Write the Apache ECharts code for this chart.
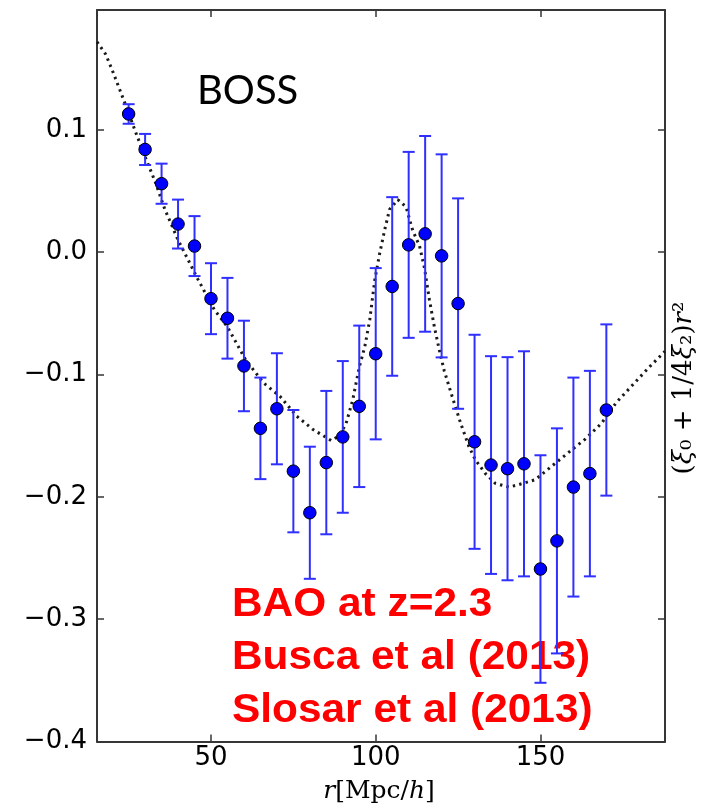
<!DOCTYPE html>
<html>
<head>
<meta charset="utf-8">
<script src="https://cdn.jsdelivr.net/npm/echarts@6/dist/echarts.min.js"></script>
<style>
html,body{margin:0;padding:0;background:#fff;}
#chart{width:712px;height:804px;}
</style>
</head>
<body>
<div id="chart"></div>
<script>
// ---- data ----
const rValues = [25, 30, 35, 40, 45, 50, 55, 60, 65, 70, 75, 80, 85, 90, 95, 100, 105, 110, 115, 120, 125, 130, 135, 140, 145, 150, 155, 160, 165, 170];
const xiValues = [0.113, 0.084, 0.056, 0.023, 0.005, -0.038, -0.054, -0.093, -0.144, -0.128, -0.179, -0.213, -0.172, -0.151, -0.126, -0.083, -0.028, 0.006, 0.015, -0.003, -0.042, -0.155, -0.174, -0.177, -0.173, -0.259, -0.236, -0.192, -0.181, -0.129];
const xiErrors = [0.008, 0.0127, 0.0164, 0.020, 0.0245, 0.029, 0.033, 0.037, 0.0415, 0.0454, 0.050, 0.054, 0.0586, 0.062, 0.066, 0.070, 0.073, 0.076, 0.080, 0.083, 0.086, 0.0875, 0.089, 0.0912, 0.092, 0.093, 0.092, 0.0895, 0.084, 0.070];

const modelR = [15.4, 18, 20, 22, 24, 27, 30, 33, 36, 40, 43, 46, 51, 55, 60.5, 66, 71, 76, 81, 86.5, 89, 91, 93, 95, 96.7, 98.2, 99.7, 101.2, 102.7, 104.2, 106.7, 109.2, 111.2, 113.3, 114.8, 116.3, 117.8, 119.3, 120.8, 123.2, 125.8, 128.3, 130.3, 133.3, 136.3, 140.4, 143.4, 148.4, 153.4, 158.4, 163.5, 168.5, 173, 178.5, 183, 187.8];
const modelXi = [0.172, 0.162, 0.149, 0.135, 0.121, 0.099, 0.078, 0.058, 0.035, 0.010, -0.006, -0.022, -0.047, -0.061, -0.088, -0.107, -0.118, -0.134, -0.145, -0.154, -0.150, -0.140, -0.121, -0.094, -0.077, -0.055, -0.023, -0.001, 0.018, 0.035, 0.043, 0.037, 0.018, 0.005, -0.013, -0.039, -0.061, -0.080, -0.097, -0.118, -0.140, -0.159, -0.170, -0.181, -0.189, -0.192, -0.190, -0.186, -0.175, -0.164, -0.153, -0.140, -0.123, -0.107, -0.094, -0.081];

const xTicks = [50, 100, 150];
const yTicks = [-0.4, -0.3, -0.2, -0.1, 0.0, 0.1];
const xRange = [15.4, 187.8];
const yRange = [-0.4, 0.198];

const annotationLines = ['BAO at z=2.3', 'Busca et al (2013)', 'Slosar et al (2013)'];
const panelLabel = 'BOSS';

// ---- build series data ----
const pointData = rValues.map((r, i) => [r, xiValues[i]]);
const errData = rValues.map((r, i) => [r, xiValues[i] - xiErrors[i], xiValues[i] + xiErrors[i]]);
const modelData = modelR.map((r, i) => [r, modelXi[i]]);

const frameColor = '#363636';
const tickFont = {fontFamily: 'DejaVu Sans', fontSize: 26, color: '#000'};

function yFmt(v) {
  if (Math.abs(v) < 1e-9) return '0.0';
  return v.toFixed(1).replace('-', '\u2212');
}

const chart = echarts.init(document.getElementById('chart'), null, {renderer: 'canvas'});

const baseX = {
  type: 'value', min: xRange[0], max: xRange[1],
  axisLine: {show: true, onZero: false, lineStyle: {color: frameColor, width: 2}},
  axisTick: {show: true, inside: true, length: 7, customValues: xTicks, lineStyle: {color: frameColor, width: 1.5}},
  splitLine: {show: false}
};
const baseY = {
  type: 'value', min: yRange[0], max: yRange[1],
  axisLine: {show: true, onZero: false, lineStyle: {color: frameColor, width: 2}},
  axisTick: {show: true, inside: true, length: 7, customValues: yTicks, lineStyle: {color: frameColor, width: 1.5}},
  splitLine: {show: false}
};

const option = {
  animation: false,
  backgroundColor: '#fff',
  grid: {left: 97, right: 47, top: 10, bottom: 62.5, containLabel: false},
  xAxis: [
    Object.assign({}, baseX, {position: 'bottom',
      axisLabel: Object.assign({show: true, margin: 4, customValues: xTicks}, tickFont)}),
    Object.assign({}, baseX, {position: 'top', axisLabel: {show: false}})
  ],
  yAxis: [
    Object.assign({}, baseY, {position: 'left',
      axisLabel: Object.assign({show: true, margin: 10, customValues: yTicks, formatter: yFmt}, tickFont)}),
    Object.assign({}, baseY, {position: 'right', axisLabel: {show: false}})
  ],
  series: [
    {
      type: 'line', data: modelData, xAxisIndex: 0, yAxisIndex: 0,
      showSymbol: false, symbol: 'none', smooth: false, z: 2,
      lineStyle: {color: '#1a1a1a', width: 3, type: [2.4, 4.2], cap: 'butt'}
    },
    {
      type: 'custom', data: errData, xAxisIndex: 0, yAxisIndex: 0, z: 3,
      encode: {x: 0, y: [1, 2]},
      renderItem: function (params, api) {
        const x = api.value(0);
        const lo = api.coord([x, api.value(1)]);
        const hi = api.coord([x, api.value(2)]);
        const hw = 6;
        const st = {stroke: '#2f2fff', lineWidth: 2};
        return {
          type: 'group',
          children: [
            {type: 'line', shape: {x1: lo[0], y1: lo[1], x2: hi[0], y2: hi[1]}, style: st},
            {type: 'line', shape: {x1: hi[0] - hw, y1: hi[1], x2: hi[0] + hw, y2: hi[1]}, style: st},
            {type: 'line', shape: {x1: lo[0] - hw, y1: lo[1], x2: lo[0] + hw, y2: lo[1]}, style: st}
          ]
        };
      }
    },
    {
      type: 'scatter', data: pointData, xAxisIndex: 0, yAxisIndex: 0, z: 4,
      symbol: 'circle', symbolSize: 12.5,
      itemStyle: {color: '#0000ff', borderColor: '#000', borderWidth: 1, opacity: 1}
    }
  ],
  graphic: [
    {type: 'text', left: 197, top: 71, style: {text: panelLabel, fontFamily: 'Lato', fontSize: 40, fill: '#000'}},
    {type: 'text', x: 232, y: 605, scaleX: 1.06, style: {text: annotationLines[0], fontFamily: 'Liberation Sans', fontWeight: 'bold', fontSize: 40, fill: '#ff0000', verticalAlign: 'middle'}},
    {type: 'text', x: 232, y: 658, scaleX: 1.06, style: {text: annotationLines[1], fontFamily: 'Liberation Sans', fontWeight: 'bold', fontSize: 40, fill: '#ff0000', verticalAlign: 'middle'}},
    {type: 'text', x: 232, y: 711, scaleX: 1.06, style: {text: annotationLines[2], fontFamily: 'Liberation Sans', fontWeight: 'bold', fontSize: 40, fill: '#ff0000', verticalAlign: 'middle'}},
    {type: 'text', x: 379, y: 791, style: {
      text: '{i|r}[Mpc/{i|h}]', fontFamily: 'DejaVu Serif', fontSize: 25, fill: '#000', align: 'center', verticalAlign: 'middle',
      rich: {i: {fontFamily: 'DejaVu Serif', fontStyle: 'italic', fontSize: 25, fill: '#000'}}
    }},
    {type: 'text', x: 684, y: 388, rotation: Math.PI / 2, style: {
      text: '({i|\u03be}\u2080 + 1/4{i|\u03be}\u2082){i|r}\u00b2', fontFamily: 'DejaVu Serif', fontSize: 26, fill: '#000', align: 'center', verticalAlign: 'middle',
      rich: {i: {fontFamily: 'DejaVu Serif', fontStyle: 'italic', fontSize: 26, fill: '#000'}}
    }}
  ]
};
chart.setOption(option);
</script>
</body>
</html>
